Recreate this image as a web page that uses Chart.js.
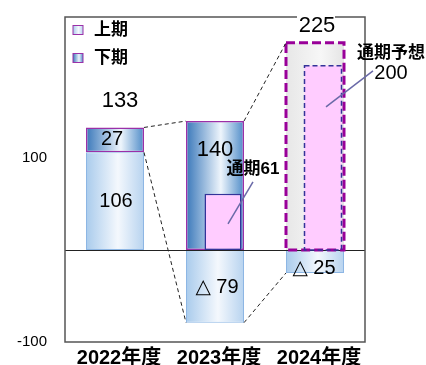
<!DOCTYPE html>
<html lang="ja">
<head>
<meta charset="utf-8">
<script src="https://cdn.jsdelivr.net/npm/chart.js@4"></script>
<style>
  html, body { margin: 0; padding: 0; background: #fff; }
  #wrap { width: 426px; height: 365px; }
</style>
</head>
<body>
<div id="wrap"><canvas id="chart"></canvas></div>
<script>
// data
const categories = ['2022年度', '2023年度', '2024年度'];
const firstHalf = [106, -79, -25];   // 上期
const secondHalf = [27, 140, 225];   // 下期 (2024 is forecast)
const fullYear = [null, 61, 200];    // 通期 / 通期予想
const yTicks = [-100, 100];
const forecastIndex = 2;

const FONT = '"Liberation Sans", "Noto Sans CJK JP", sans-serif';
const NUM_FONT = '"Liberation Sans", "DejaVu Sans", sans-serif';
const BAR_PCT = 0.58;

const lightStops = [[0, '#a9cbec'], [0.55, '#f4f8fd'], [1, '#b7d3ef']];
const darkStops = [[0, '#3a78ba'], [0.6, '#eef5fc'], [1, '#4f8cc8']];
const grayStops = [[0, '#e7e7e7'], [0.6, '#f7f7f7'], [1, '#e5e5e5']];

function gradient(ctx, x0, x1, stops) {
    const g = ctx.createLinearGradient(x0, 0, x1, 0);
    stops.forEach(s => g.addColorStop(s[0], s[1]));
    return g;
}

function barFill(pick) {
    return function(c) {
        const chart = c.chart;
        const stops = pick(c.dataIndex);
        if (!chart.chartArea) return stops[0][1];
        const xs = chart.scales.x;
        const cx = xs.getPixelForValue(c.dataIndex);
        const half = xs.width / categories.length * BAR_PCT / 2;
        return gradient(chart.ctx, cx - half, cx + half, stops);
    };
}

function fmt(v) {
    return v < 0 ? '△ ' + (-v) : String(v);
}

// nudge the full-year bars to the right inside their column
const shiftPlugin = {
    id: 'shift',
    afterDatasetsUpdate(chart) {
        chart.getDatasetMeta(2).data.forEach(el => { el.x += 8; });
    }
};

const decorPlugin = {
    id: 'decor',
    afterDatasetsDraw(chart) {
        const { ctx, chartArea: a, scales: { y } } = chart;
        const up = chart.getDatasetMeta(0).data;
        const down = chart.getDatasetMeta(1).data;
        const full = chart.getDatasetMeta(2).data;
        ctx.save();

        // zero line
        const y0 = Math.round(y.getPixelForValue(0)) + 0.5;
        ctx.strokeStyle = '#222';
        ctx.lineWidth = 1;
        ctx.beginPath();
        ctx.moveTo(a.left, y0);
        ctx.lineTo(a.right, y0);
        ctx.stroke();

        // plot frame
        ctx.strokeStyle = '#555';
        ctx.lineWidth = 1.5;
        ctx.strokeRect(a.left, a.top, a.right - a.left, a.bottom - a.top);

        // dashed forecast boxes
        const f = down[forecastIndex];
        ctx.setLineDash([9, 4]);
        ctx.lineWidth = 3;
        ctx.strokeStyle = '#990099';
        ctx.strokeRect(f.x - f.width / 2, f.y, f.width, f.base - f.y);
        const p = full[forecastIndex];
        ctx.setLineDash([5, 3]);
        ctx.lineWidth = 1.5;
        ctx.strokeStyle = '#333399';
        ctx.strokeRect(p.x - p.width / 2, p.y, p.width, p.base - p.y);

        // connectors between columns
        ctx.setLineDash([4, 3]);
        ctx.lineWidth = 1;
        ctx.strokeStyle = '#222';
        const link = (e1, e2) => {
            ctx.beginPath();
            ctx.moveTo(e1.x + e1.width / 2, e1.y);
            ctx.lineTo(e2.x - e2.width / 2, e2.y);
            ctx.stroke();
        };
        link(down[0], down[1]);
        link(up[0], up[1]);
        link(up[1], up[2]);
        link(down[1], down[2]);
        ctx.setLineDash([]);

        // callout lines
        ctx.strokeStyle = '#6a6aa8';
        ctx.lineWidth = 1.5;
        const p1 = full[1];
        ctx.beginPath();
        ctx.moveTo(p1.x + 30, p1.y - 12);
        ctx.lineTo(p1.x + 5, (p1.y + p1.base) / 2 + 2);
        ctx.stroke();
        ctx.beginPath();
        ctx.moveTo(p.x + 50, p.y + 5);
        ctx.lineTo(p.x + 3, p.y + 41);
        ctx.stroke();

        // texts
        ctx.fillStyle = '#000';
        ctx.textAlign = 'center';
        ctx.textBaseline = 'middle';
        ctx.font = '20px ' + NUM_FONT;
        ctx.fillText(fmt(secondHalf[0]), down[0].x - 3, (down[0].y + down[0].base) / 2);
        ctx.fillText(fmt(firstHalf[0]), up[0].x + 1, (up[0].y + up[0].base) / 2);
        ctx.fillText(fmt(firstHalf[1]), up[1].x + 2, (up[1].y + up[1].base) / 2 + 1);
        ctx.fillText(fmt(firstHalf[2]), up[2].x - 1, (up[2].y + up[2].base) / 2 + 7);
        ctx.font = '22px ' + NUM_FONT;
        ctx.fillText(fmt(secondHalf[1]), down[1].x, down[1].y + 29);
        ctx.fillText(String(firstHalf[0] + secondHalf[0]), down[0].x + 5, down[0].y - 27);
        // forecast total sits over the frame
        ctx.fillStyle = '#fff';
        ctx.fillRect(f.x - 18, f.y - 29, 38, 20);
        ctx.fillStyle = '#000';
        ctx.fillText(String(secondHalf[forecastIndex]), f.x + 2, f.y - 17);

        ctx.font = 'bold 17px ' + FONT;
        ctx.fillText('通期' + fullYear[1], p1.x + 30, p1.y - 24);
        ctx.fillText('通期予想', p.x + 68, p.y - 12);
        ctx.font = '20px ' + NUM_FONT;
        ctx.fillText(String(fullYear[2]), p.x + 68, p.y + 8);

        // legend
        const lx = a.left + 8;
        [['上期', lightStops, a.top + 13], ['下期', darkStops, a.top + 41]].forEach(([txt, stops, ly]) => {
            ctx.fillStyle = gradient(ctx, lx, lx + 10, stops);
            ctx.fillRect(lx, ly - 4.5, 10, 9);
            ctx.strokeStyle = '#9b30a8';
            ctx.lineWidth = 1;
            ctx.strokeRect(lx, ly - 4.5, 10, 9);
            ctx.fillStyle = '#000';
            ctx.textAlign = 'left';
            ctx.font = 'bold 17px ' + FONT;
            ctx.fillText(txt, lx + 21, ly);
        });

        ctx.restore();
    }
};

new Chart(document.getElementById('chart'), {
    type: 'bar',
    data: {
        labels: categories,
        datasets: [
            {
                label: '上期',
                data: firstHalf,
                stack: 'half',
                order: 1,
                backgroundColor: barFill(() => lightStops),
                borderColor: '#8db6e4',
                borderWidth: 1,
                borderSkipped: false
            },
            {
                label: '下期',
                data: secondHalf,
                stack: 'half',
                order: 1,
                backgroundColor: barFill(i => i === forecastIndex ? grayStops : darkStops),
                borderColor: '#9b30a8',
                borderWidth: c => c.dataIndex === forecastIndex ? 0 : 1.5,
                borderSkipped: false
            },
            {
                label: '通期',
                data: fullYear,
                stack: 'full',
                order: 0,
                grouped: false,
                barPercentage: 0.37,
                backgroundColor: '#ffccff',
                borderColor: '#333399',
                borderWidth: c => c.dataIndex === forecastIndex ? 0 : 1.5,
                borderSkipped: false
            }
        ]
    },
    options: {
        responsive: true,
        maintainAspectRatio: false,
        animation: false,
        events: [],
        barPercentage: BAR_PCT,
        categoryPercentage: 1,
        layout: { padding: { left: 0, right: 61, top: 17, bottom: 0 } },
        plugins: {
            legend: { display: false },
            tooltip: { enabled: false }
        },
        scales: {
            x: {
                stacked: true,
                offset: true,
                afterFit: s => {
                    s.height = 23;
                    s.paddingLeft = 0;
                    s.paddingRight = 0;
                },
                grid: { display: false, drawTicks: false },
                border: { display: false },
                ticks: {
                    color: '#000',
                    font: { family: FONT, size: 20, weight: 'bold' },
                    padding: 4,
                    labelOffset: 4,
                    maxRotation: 0,
                    autoSkip: false
                }
            },
            y: {
                stacked: true,
                min: -100,
                max: 253,
                afterBuildTicks: s => { s.ticks = yTicks.map(v => ({ value: v })); },
                afterFit: s => {
                    s.width = 65;
                    s.paddingTop = 0;
                    s.paddingBottom = 0;
                },
                grid: { display: false, drawTicks: false },
                border: { display: false },
                ticks: {
                    color: '#000',
                    font: { family: FONT, size: 15 },
                    padding: 18
                }
            }
        }
    },
    plugins: [shiftPlugin, decorPlugin]
});
</script>
</body>
</html>
